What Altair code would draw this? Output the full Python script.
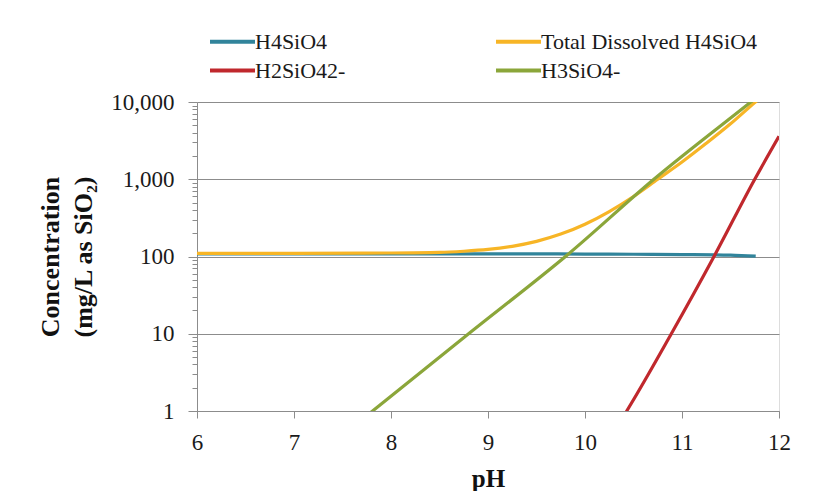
import altair as alt
import pandas as pd

# ---- data ----
series_order = ["H4SiO4", "Total Dissolved H4SiO4", "H2SiO42-", "H3SiO4-"]
series_colors = ["#31849B", "#F7B526", "#C0282D", "#8BA63A"]

ph_h4 = [6.0, 7.0, 8.0, 9.0, 9.5, 10.0, 10.5, 11.0, 11.5, 11.76]
conc_h4 = [108, 108, 108, 108, 108, 107.5, 107, 106, 104, 101]

ph_total = [6.0, 7.0, 8.0, 8.5, 8.75, 9.0, 9.25, 9.5, 9.75, 10.0, 10.25,
            10.5, 10.75, 11.0, 11.25, 11.5, 11.75, 12.0]
conc_total = [110, 110, 111, 113, 117, 123.5, 135.5, 157, 195, 262, 382,
              598, 1000, 1670, 2915, 5220, 9850, 18000]

ph_h2 = [10.0, 10.43, 10.89, 11.33, 11.75, 12.0]
conc_h2 = [0.15, 1, 10, 100, 1000, 3600]

ph_h3 = [7.5, 7.81, 8.8, 9.83, 10.71, 11.71, 12.0]
conc_h3 = [0.49, 1, 10, 108, 1000, 10000, 19500]

x_ticks = [6, 7, 8, 9, 10, 11, 12]
y_major = [1, 10, 100, 1000, 10000]
y_minor = [m * d for d in [1, 10, 100, 1000] for m in range(2, 10)]

# ---- table ----
frames = []
for i, (name, xs, ys) in enumerate([
    (series_order[0], ph_h4, conc_h4),
    (series_order[1], ph_total, conc_total),
    (series_order[2], ph_h2, conc_h2),
    (series_order[3], ph_h3, conc_h3),
]):
    frames.append(pd.DataFrame({"pH": xs, "conc": ys, "series": name, "k": i}))
df = pd.concat(frames, ignore_index=True)

FONT = "Liberation Serif"
GRID = "#8c8c8c"
is_major = "indexof([1, 10, 100, 1000, 10000], datum.value) >= 0"

chart = (
    alt.Chart(df)
    .mark_line(strokeWidth=3.2, clip=True, interpolate="monotone")
    .encode(
        x=alt.X(
            "pH:Q",
            scale=alt.Scale(domain=[6, 12], nice=False, zero=False),
            axis=alt.Axis(
                values=x_ticks, labelExpr="format(datum.value, 'd')",
                title="pH", grid=False, labelFlush=False,
                tickSize=7, tickColor=GRID, domainColor=GRID,
                labelFont=FONT, labelFontSize=23, labelColor="#1a1a1a",
                labelPadding=13, titleFont=FONT, titleFontSize=25,
                titleFontWeight="bold", titleColor="#111111", titlePadding=12,
            ),
        ),
        y=alt.Y(
            "conc:Q",
            scale=alt.Scale(type="log", domain=[1, 10000], nice=False),
            axis=alt.Axis(
                orient="left", values=y_major + y_minor,
                labelExpr=is_major + " ? format(datum.value, ',') : ''",
                labelOverlap=False, grid=True,
                gridColor=GRID, gridWidth=1.2,
                gridOpacity={"condition": {"test": is_major, "value": 1}, "value": 0},
                tickSize={"condition": {"test": is_major, "value": 9}, "value": 5},
                tickColor=GRID, domainColor=GRID,
                labelFont=FONT, labelFontSize=23,
                labelColor="#1a1a1a", labelPadding=14,
                title=["Concentration", "(mg/L as SiO\u2082)"],
                titleFont=FONT, titleFontSize=26, titleFontWeight="bold",
                titleColor="#111111", titleLineHeight=33, titlePadding=14,
            ),
        ),
        color=alt.Color(
            "series:N",
            scale=alt.Scale(domain=series_order, range=series_colors),
            legend=alt.Legend(
                title=None, orient="none", legendX=22, legendY=-74,
                direction="horizontal", columns=2,
                symbolType="M-2,0H2", symbolSize=506, symbolStrokeWidth=4,
                symbolFillColor="transparent",
                labelExpr="datum.label",
                labelFont=FONT, labelFontSize=22, labelColor="#1a1a1a",
                labelOffset=9, columnPadding=142, rowPadding=4,
                labelLimit=400,
            ),
        ),
        order=alt.Order("k:Q"),
    )
    .properties(
        width=582,
        height=309,
        autosize=alt.AutoSizeParams(type="none"),
        padding={"left": 189, "top": 94, "right": 20, "bottom": 80},
    )
    .configure_view(stroke=None)
    .configure_axis(labelFont=FONT)
    .configure_legend(labelFont=FONT)
    .configure(background="white", font=FONT)
)

chart.save("out.html", embed_options={"renderer": "svg", "actions": False})
